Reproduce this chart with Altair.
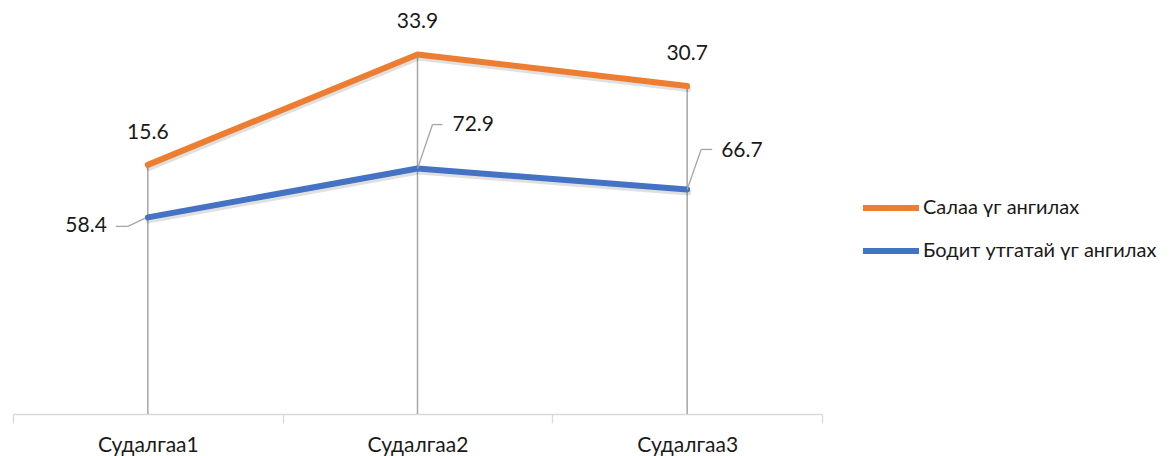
import altair as alt
import pandas as pd

categories = ["Судалгаа1", "Судалгаа2", "Судалгаа3"]
blue_values = [58.4, 72.9, 66.7]
orange_values = [15.6, 33.9, 30.7]
series_names = ["Салаа үг ангилах", "Бодит утгатай үг ангилах"]
colors = ["#ED7D31", "#4472C4"]

FONT = "Lato, Open Sans, sans-serif"
FS = 21
TXT = "#1a1a1a"

rows = []
for c, b, o in zip(categories, blue_values, orange_values):
    rows.append({"cat": c, "series": series_names[1], "value": b, "top": round(b, 2), "label": f"{b:.1f}"})
    rows.append({"cat": c, "series": series_names[0], "value": o, "top": round(b + o, 2), "label": f"{o:.1f}"})
df = pd.DataFrame(rows)

x = alt.X("cat:N", sort=categories, title=None,
          scale=alt.Scale(paddingInner=0, paddingOuter=0),
          axis=alt.Axis(labelAngle=0, labelFont=FONT, labelFontSize=FS, labelColor=TXT,
                        domainColor="#d9d9d9", domainWidth=1.3, tickColor="#d9d9d9", tickWidth=1.3,
                        tickSize=9, tickBand="extent", labelPadding=11, grid=False))
y = alt.Y("top:Q", scale=alt.Scale(domain=[0, 120]), axis=None)

base = alt.Chart(df)

drop = base.transform_filter(alt.datum.series == series_names[0]).mark_rule(
    color="#a6a6a6", strokeWidth=1.5).encode(x=x, y=y, y2=alt.datum(0))

shadow = base.mark_line(strokeWidth=6, color="#000000", opacity=0.12, yOffset=3, xOffset=1,
                        strokeCap="round", strokeJoin="round").encode(
    x=x, y=y, detail="series:N")

lines = base.mark_line(strokeWidth=6, strokeCap="round", strokeJoin="round").encode(
    x=x, y=y,
    color=alt.Color("series:N", scale=alt.Scale(domain=series_names, range=colors),
                    legend=alt.Legend(title=None, orient="none", legendX=847, legendY=167,
                                      symbolType="stroke", symbolStrokeWidth=6, symbolSize=3136,
                                      labelFont=FONT, labelFontSize=20, labelColor=TXT,
                                      labelOffset=1, labelLimit=500, rowPadding=-11,
                                      padding=0)))

orange_labels = base.transform_filter(alt.datum.series == series_names[0]).mark_text(
    font=FONT, fontSize=FS, color=TXT, dy=-32, align="center", baseline="middle").encode(
    x=x, y=y, text="label:N")

layers = [drop, shadow, lines, orange_labels]

# blue labels with leader lines (offsets in pixels: style only)
blue_style = {
    categories[0]: dict(dx=-41, dy=9, align="right",
                        leaders=[(-32, 9, -20, 9), (-20, 9, -3, 1)]),
    categories[1]: dict(dx=35, dy=-44, align="left",
                        leaders=[(0, 0, 15, -44), (15, -44, 25, -44)]),
    categories[2]: dict(dx=34, dy=-38, align="left",
                        leaders=[(0, 0, 14, -40), (14, -40, 25, -40)]),
}
blue_base = base.transform_filter(alt.datum.series == series_names[1])
for cat, st in blue_style.items():
    sel = blue_base.transform_filter(alt.datum.cat == cat)
    for (x1, y1, x2, y2) in st["leaders"]:
        layers.append(sel.mark_rule(color="#a6a6a6", strokeWidth=1.3,
                                    xOffset=x1, yOffset=y1, x2Offset=x2, y2Offset=y2).encode(
            x=x, y=y, x2="cat:N", y2="top:Q"))
    layers.append(sel.mark_text(font=FONT, fontSize=FS, color=TXT, dx=st["dx"], dy=st["dy"],
                                align=st["align"], baseline="middle").encode(
        x=x, y=y, text="label:N"))

chart = alt.layer(*layers).properties(
    width=809, height=404,
    autosize=alt.AutoSizeParams(type="none"),
    padding={"left": 5, "top": 2, "right": 343, "bottom": 42},
).configure_view(stroke=None)

chart.save("out.html", embed_options={"renderer": "svg", "actions": False})
